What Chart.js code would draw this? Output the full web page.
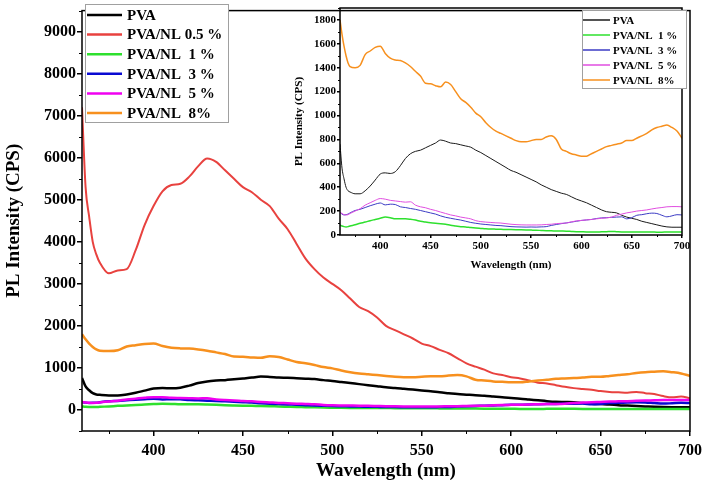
<!DOCTYPE html>
<html>
<head>
<meta charset="utf-8">
<script src="https://cdn.jsdelivr.net/npm/chart.js@4.4.1/dist/chart.umd.min.js"></script>
<style>
  html, body { margin: 0; padding: 0; background: #fff; }
  #wrap { position: relative; width: 707px; height: 488px; }
  #mainChart { position: absolute; left: 0; top: 0; }
  #insetChart { position: absolute; left: 290px; top: 0; }
</style>
</head>
<body>
<div id="wrap">
  <canvas id="mainChart" width="707" height="488"></canvas>
  <canvas id="insetChart" width="417" height="280"></canvas>
</div>
<script>
// Wavelength grid (nm)
const wavelengths = [360, 362, 364, 366, 368, 370, 375, 380, 385, 390, 395, 400, 405, 410, 415, 420, 425, 430, 435, 440,
  445, 450, 455, 460, 465, 470, 475, 480, 485, 490, 495, 500, 505, 510, 515, 520, 525, 530, 535, 540,
  545, 550, 555, 560, 565, 570, 575, 580, 585, 590, 595, 600, 605, 610, 615, 620, 625, 630, 635, 640,
  645, 650, 655, 660, 665, 670, 675, 680, 685, 690, 695, 700];

// PL intensity (CPS)
const pva = [760, 560, 470, 400, 370, 360, 345, 345, 370, 410, 460, 510, 520, 515, 530, 580, 640, 680, 700, 710,
  730, 750, 770, 795, 785, 770, 765, 755, 745, 735, 710, 690, 665, 640, 615, 590, 565, 540, 525, 505,
  485, 465, 445, 420, 400, 380, 365, 350, 340, 320, 300, 285, 270, 250, 230, 210, 195, 190, 185, 165,
  150, 140, 130, 115, 105, 95, 85, 75, 68, 65, 65, 65];
const nl05 = [7200, 5300, 4600, 4000, 3700, 3500, 3250, 3320, 3350, 3800, 4400, 4850, 5200, 5350, 5380, 5550, 5800, 5980, 5900, 5700,
  5500, 5300, 5180, 5000, 4850, 4550, 4300, 3950, 3600, 3350, 3150, 3000, 2850, 2650, 2450, 2350, 2200, 2000, 1900, 1800,
  1700, 1580, 1520, 1430, 1350, 1230, 1110, 1030, 960, 870, 830, 780, 750, 700, 650, 630, 590, 550, 520, 500,
  480, 450, 430, 420, 410, 430, 400, 380, 330, 300, 320, 280];
const nl1 = [85, 75, 70, 68, 70, 75, 85, 98, 108, 120, 130, 140, 150, 145, 135, 135, 136, 132, 125, 115,
  108, 102, 98, 95, 90, 82, 76, 70, 67, 62, 58, 55, 52, 50, 49, 48, 46, 45, 44, 43,
  42, 41, 40, 38, 36, 35, 34, 33, 32, 30, 28, 27, 26, 26, 25, 27, 28, 30, 28, 26,
  25, 25, 25, 26, 25, 25, 24, 24, 25, 25, 25, 26];
const nl3 = [190, 175, 168, 170, 175, 185, 205, 215, 230, 245, 258, 268, 252, 258, 255, 236, 230, 222, 215, 205,
  195, 185, 175, 160, 148, 140, 132, 125, 115, 105, 98, 92, 88, 84, 80, 78, 74, 70, 68, 67,
  66, 67, 66, 68, 70, 80, 88, 95, 101, 108, 115, 122, 126, 130, 138, 143, 145, 148, 150, 152,
  135, 145, 165, 170, 178, 183, 180, 165, 152, 160, 170, 168];
const nl5 = [190, 180, 170, 168, 170, 180, 200, 220, 250, 270, 290, 305, 300, 290, 285, 280, 275, 278, 250, 236,
  228, 215, 205, 192, 180, 168, 160, 150, 143, 135, 120, 112, 108, 105, 102, 100, 95, 90, 87, 85,
  84, 84, 84, 85, 88, 90, 95, 98, 100, 110, 118, 122, 126, 130, 135, 140, 143, 150, 165, 175,
  185, 192, 200, 205, 210, 218, 225, 230, 236, 238, 238, 236];
const nl8 = [1800, 1680, 1580, 1500, 1440, 1410, 1400, 1420, 1510, 1540, 1570, 1580, 1520, 1480, 1465, 1460, 1440, 1410, 1370, 1330,
  1270, 1265, 1250, 1240, 1280, 1260, 1200, 1140, 1110, 1070, 1020, 990, 940, 900, 870, 850, 830, 810, 790, 780,
  780, 790, 800, 800, 820, 830, 800, 720, 700, 680, 670, 660, 660, 680, 700, 720, 740, 750, 760, 770,
  790, 790, 810, 830, 850, 880, 900, 910, 920, 900, 870, 810];

// Tick values
const xMajor = [400, 450, 500, 550, 600, 650, 700];
const xMinor = [375, 425, 475, 525, 575, 625, 675];
const yMajorMain = [0, 1000, 2000, 3000, 4000, 5000, 6000, 7000, 8000, 9000];
const yMinorMain = [-500, 500, 1500, 2500, 3500, 4500, 5500, 6500, 7500, 8500, 9500];
const yMajorInset = [0, 200, 400, 600, 800, 1000, 1200, 1400, 1600, 1800];
const yMinorInset = [100, 300, 500, 700, 900, 1100, 1300, 1500, 1700, 1900];

const serif = '"Liberation Serif", "Times New Roman", serif';

const toPoints = values => values.map((v, i) => ({ x: wavelengths[i], y: v }));

// Box around the plot area plus short minor ticks
const framePlugin = {
    id: 'frame',
    afterDatasetsDraw(chart, args, opts) {
        const { ctx, chartArea: { left, top, right, bottom } } = chart;
        const xs = chart.scales.x, ys = chart.scales.y;
        ctx.save();
        ctx.strokeStyle = '#000';
        ctx.lineWidth = opts.lineWidth;
        ctx.strokeRect(left, top, right - left, bottom - top);
        ctx.lineWidth = 1;
        ctx.beginPath();
        opts.minorX.forEach(v => {
            const px = Math.round(xs.getPixelForValue(v)) + 0.5;
            ctx.moveTo(px, bottom);
            ctx.lineTo(px, bottom + opts.minorLen);
        });
        opts.minorY.forEach(v => {
            const py = Math.round(ys.getPixelForValue(v)) + 0.5;
            ctx.moveTo(left, py);
            ctx.lineTo(left - opts.minorLen, py);
        });
        ctx.stroke();
        ctx.restore();
    }
};

// Boxed legend drawn inside the plot
const boxLegendPlugin = {
    id: 'boxLegend',
    afterDraw(chart, args, opts) {
        const ctx = chart.ctx;
        ctx.save();
        ctx.fillStyle = '#fff';
        ctx.fillRect(opts.x, opts.y, opts.w, opts.h);
        ctx.strokeStyle = '#a0a0a0';
        ctx.lineWidth = 1;
        ctx.strokeRect(opts.x + 0.5, opts.y + 0.5, opts.w, opts.h);
        ctx.font = opts.textFont;
        ctx.textBaseline = 'middle';
        chart.data.datasets.forEach((ds, i) => {
            const y = opts.y + opts.first + i * opts.rowH;
            ctx.strokeStyle = ds.borderColor;
            ctx.lineWidth = opts.lineWidth;
            ctx.beginPath();
            ctx.moveTo(opts.x + opts.pad, y);
            ctx.lineTo(opts.x + opts.pad + opts.len, y);
            ctx.stroke();
            ctx.fillStyle = '#000';
            ctx.fillText(ds.label, opts.x + opts.pad + opts.len + opts.gap, y + 1);
        });
        ctx.restore();
    }
};

function makeDataset(label, values, color, width, idx) {
    return {
        label: label,
        data: toPoints(values),
        borderColor: color,
        borderWidth: width,
        pointRadius: 0,
        cubicInterpolationMode: 'monotone',
        fill: false,
        order: 10 - idx
    };
}

function axes(cfg) {
    const tickFont = { family: serif, size: cfg.tickSize, weight: 'bold' };
    const titleFont = { family: serif, size: cfg.titleSize, weight: 'bold' };
    return {
        x: {
            type: 'linear',
            min: 360,
            max: 700,
            afterBuildTicks: s => { s.ticks = xMajor.map(v => ({ value: v })); },
            afterFit: s => { s.height = cfg.xHeight; },
            grid: { drawOnChartArea: false, tickLength: cfg.tickLen, color: '#000', lineWidth: 1.5 },
            border: { display: false },
            ticks: { color: '#000', font: tickFont, padding: cfg.xPad, maxRotation: 0, autoSkip: false, callback: v => String(v) },
            title: { display: true, text: 'Wavelength (nm)', color: '#000', font: titleFont, padding: { top: 0, bottom: cfg.xTitlePad } }
        },
        y: {
            type: 'linear',
            min: cfg.yMin,
            max: cfg.yMax,
            afterBuildTicks: s => { s.ticks = cfg.yMajor.map(v => ({ value: v })); },
            afterFit: s => { s.width = cfg.yWidth; },
            grid: { drawOnChartArea: false, tickLength: cfg.tickLen, color: '#000', lineWidth: 1.5 },
            border: { display: false },
            ticks: { color: '#000', font: tickFont, padding: 1, autoSkip: false, callback: v => String(v) },
            title: { display: true, text: 'PL Intensity (CPS)', color: '#000', font: titleFont, padding: { top: cfg.yTitlePad, bottom: 0 } }
        }
    };
}

// Main chart
new Chart(document.getElementById('mainChart'), {
    type: 'line',
    data: {
        datasets: [
            makeDataset('PVA', pva, '#000000', 2.5, 0),
            makeDataset('PVA/NL 0.5 %', nl05, '#e8423f', 2, 1),
            makeDataset('PVA/NL  1 %', nl1, '#2ee02e', 2.5, 2),
            makeDataset('PVA/NL  3 %', nl3, '#0a0ad2', 2.5, 3),
            makeDataset('PVA/NL  5 %', nl5, '#f000f0', 2.5, 4),
            makeDataset('PVA/NL  8%', nl8, '#f7901e', 2.5, 5)
        ]
    },
    options: {
        responsive: false,
        animation: false,
        devicePixelRatio: 1,
        layout: { padding: { left: 0, right: 14, top: 3, bottom: 0 } },
        scales: axes({
            tickSize: 16, titleSize: 19, tickLen: 5, xPad: 5, xHeight: 57, yWidth: 82,
            xTitlePad: 6, yTitlePad: 3, yMin: -500, yMax: 9500, yMajor: yMajorMain
        }),
        plugins: {
            legend: { display: false },
            tooltip: { enabled: false },
            frame: { lineWidth: 1.5, minorX: xMinor, minorY: yMinorMain, minorLen: 3 },
            boxLegend: {
                x: 85, y: 4, w: 143, h: 118, first: 11, rowH: 19.6,
                pad: 2, len: 35, gap: 5, lineWidth: 2.5,
                textFont: 'bold 15px ' + serif
            }
        }
    },
    plugins: [framePlugin, boxLegendPlugin]
});

// Inset chart
new Chart(document.getElementById('insetChart'), {
    type: 'line',
    data: {
        datasets: [
            makeDataset('PVA', pva, '#1a1a1a', 1, 0),
            makeDataset('PVA/NL  1 %', nl1, '#2ee02e', 1.5, 1),
            makeDataset('PVA/NL  3 %', nl3, '#3b3bc4', 1, 2),
            makeDataset('PVA/NL  5 %', nl5, '#e04ee0', 1, 3),
            makeDataset('PVA/NL  8%', nl8, '#f7901e', 1.5, 4)
        ]
    },
    options: {
        responsive: false,
        animation: false,
        devicePixelRatio: 1,
        layout: { padding: { left: 0, right: 25, top: 8, bottom: 0 } },
        scales: axes({
            tickSize: 11, titleSize: 11, tickLen: 3, xPad: 2, xHeight: 45, yWidth: 50,
            xTitlePad: 8, yTitlePad: 3, yMin: 0, yMax: 1900, yMajor: yMajorInset
        }),
        plugins: {
            legend: { display: false },
            tooltip: { enabled: false },
            frame: { lineWidth: 1.5, minorX: xMinor, minorY: yMinorInset, minorLen: 2 },
            boxLegend: {
                x: 292, y: 10, w: 104, h: 78, first: 10, rowH: 15,
                pad: 1, len: 27, gap: 3, lineWidth: 1.5,
                textFont: 'bold 11px ' + serif
            }
        }
    },
    plugins: [framePlugin, boxLegendPlugin]
});
</script>
</body>
</html>
